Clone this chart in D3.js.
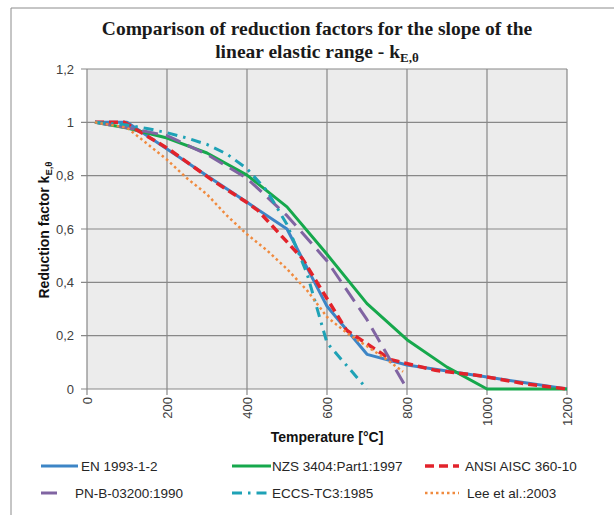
<!DOCTYPE html>
<html>
<head>
<meta charset="utf-8">
<script src="https://cdn.jsdelivr.net/npm/d3@7"></script>
<style>
  body { margin: 0; background: #fff; }
  svg { display: block; }
  .tick-label { font-family: "Liberation Sans", Arial, sans-serif; font-size: 13px; fill: #404040; }
  .legend-text { font-family: "Liberation Sans", Arial, sans-serif; font-size: 13.5px; fill: #262626; }
</style>
</head>
<body>
<div id="chart"></div>
<script>
// series data (temperature in °C, reduction factor)
const enTemps   = [20, 100, 200, 300, 400, 500, 600, 700, 800, 900, 1000, 1100, 1200];
const enValues  = [1, 1, 0.9, 0.8, 0.7, 0.6, 0.31, 0.13, 0.09, 0.0675, 0.045, 0.0225, 0];

const nzsTemps  = [20, 100, 200, 300, 400, 500, 600, 700, 800, 900, 1000, 1200];
const nzsValues = [1, 0.979, 0.941, 0.885, 0.802, 0.683, 0.505, 0.32, 0.185, 0.082, 0, 0];

const ansiTemps  = [20, 93, 204, 316, 399, 427, 538, 649, 760, 871, 982, 1093, 1200];
const ansiValues = [1, 1, 0.9, 0.78, 0.7, 0.67, 0.49, 0.22, 0.11, 0.07, 0.05, 0.02, 0];

const pnTemps  = [20, 100, 200, 300, 400, 500, 600, 700, 800];
const pnValues = [1, 0.98, 0.95, 0.88, 0.79, 0.65, 0.48, 0.26, 0];

const eccsTemps  = [20, 100, 150, 200, 250, 300, 350, 400, 450, 500, 550, 600, 700];
const eccsValues = [1, 0.99, 0.977, 0.961, 0.941, 0.917, 0.881, 0.826, 0.743, 0.617, 0.433, 0.173, 0];

const leeTemps  = [20, 100, 150, 200, 250, 300, 350, 400, 450, 500, 550, 600, 650, 700, 750, 790];
const leeValues = [1, 0.98, 0.92, 0.86, 0.79, 0.73, 0.65, 0.58, 0.52, 0.45, 0.37, 0.27, 0.21, 0.16, 0.11, 0.065];

const seriesNames = ["EN 1993-1-2", "NZS 3404:Part1:1997", "ANSI AISC 360-10",
                     "PN-B-03200:1990", "ECCS-TC3:1985", "Lee et al.:2003"];

const xTicks = [0, 200, 400, 600, 800, 1000, 1200];
const yTicks = [0, 0.2, 0.4, 0.6, 0.8, 1, 1.2];

const width = 614, height = 515;

const svg = d3.select('#chart').append('svg')
    .attr('width', width)
    .attr('height', height);

// chart frame (only left and top edges are visible)
svg.append('path')
    .attr('d', 'M11,520 V8 H620')
    .attr('fill', 'none')
    .attr('stroke', '#8c8c8c')
    .attr('stroke-width', 1);

const x = d3.scaleLinear().domain([0, 1200]).range([87, 567]);
const y = d3.scaleLinear().domain([0, 1.2]).range([389, 69]);

// plot area
svg.append('rect')
    .attr('x', x(0)).attr('y', y(1.2))
    .attr('width', x(1200) - x(0)).attr('height', y(0) - y(1.2))
    .attr('fill', '#ececec');

// grid
const grid = svg.append('g').attr('stroke', '#888').attr('stroke-width', 1.2);
grid.selectAll('.gx').data(xTicks).enter().append('line')
    .attr('x1', d => x(d)).attr('x2', d => x(d))
    .attr('y1', y(1.2)).attr('y2', y(0) + 6);
grid.selectAll('.gy').data(yTicks).enter().append('line')
    .attr('x1', x(0) - 6).attr('x2', x(1200))
    .attr('y1', d => y(d)).attr('y2', d => y(d));

// y tick labels with comma decimals
const fmt = d => String(+d.toFixed(1)).replace('.', ',');
svg.selectAll('.ylab').data(yTicks).enter().append('text')
    .attr('class', 'tick-label')
    .attr('x', 74)
    .attr('y', d => y(d) + 4.5)
    .attr('text-anchor', 'end')
    .text(fmt);

// x tick labels rotated
svg.selectAll('.xlab').data(xTicks).enter().append('text')
    .attr('class', 'tick-label')
    .attr('transform', d => `translate(${x(d) + 4.5},397) rotate(-90)`)
    .attr('text-anchor', 'end')
    .text(d => d);

// title
const title = svg.append('text')
    .attr('text-anchor', 'middle')
    .attr('font-family', '"Liberation Serif", "Times New Roman", serif')
    .attr('font-weight', 'bold')
    .attr('font-size', 19.5)
    .attr('fill', '#1a1a1a');
title.append('tspan').attr('x', 317).attr('y', 35)
    .text('Comparison of reduction factors for the slope of the');
const t2 = title.append('tspan').attr('x', 317).attr('y', 58);
t2.append('tspan').text('linear elastic range - k');
t2.append('tspan').attr('font-size', 13).attr('dy', 4).text('E,θ');

// axis titles
svg.append('text')
    .attr('x', 327).attr('y', 442)
    .attr('text-anchor', 'middle')
    .attr('font-family', '"Liberation Sans", Arial, sans-serif')
    .attr('font-weight', 'bold')
    .attr('font-size', 14)
    .attr('fill', '#111')
    .text('Temperature [°C]');

const yTitle = svg.append('text')
    .attr('transform', 'translate(49,230) rotate(-90)')
    .attr('text-anchor', 'middle')
    .attr('font-family', '"Liberation Sans", Arial, sans-serif')
    .attr('font-weight', 'bold')
    .attr('font-size', 14)
    .attr('fill', '#111');
yTitle.append('tspan').text('Reduction factor k');
yTitle.append('tspan').attr('font-size', 9.5).attr('dy', 3).text('E,θ');

// series
const styles = [
    { color: '#3d85c6', dash: null,        w: 3 },
    { color: '#16a84c', dash: null,        w: 3 },
    { color: '#e2232b', dash: '9,5',       w: 3.5 },
    { color: '#8064a2', dash: '16,8',      w: 3 },
    { color: '#1ea2b6', dash: '10,6,2.5,6', w: 3 },
    { color: '#f08a3e', dash: '2.5,3',     w: 2.5 }
];

const seriesData = [
    d3.zip(enTemps, enValues),
    d3.zip(nzsTemps, nzsValues),
    d3.zip(ansiTemps, ansiValues),
    d3.zip(pnTemps, pnValues),
    d3.zip(eccsTemps, eccsValues),
    d3.zip(leeTemps, leeValues)
];

const line = d3.line().x(d => x(d[0])).y(d => y(d[1]));

svg.append('g').selectAll('path')
    .data(seriesData)
    .enter().append('path')
    .attr('d', line)
    .attr('fill', 'none')
    .attr('stroke', (d, i) => styles[i].color)
    .attr('stroke-width', (d, i) => styles[i].w)
    .attr('stroke-dasharray', (d, i) => styles[i].dash)
    .attr('stroke-linejoin', 'round');

// legend
const legendPos = [
    { lx: 41, ly: 466, len: 37 },
    { lx: 232, ly: 466, len: 39 },
    { lx: 425, ly: 466, len: 34 },
    { lx: 41, ly: 493, len: 18 },
    { lx: 232, ly: 493, len: 39 },
    { lx: 425, ly: 493, len: 34 }
];
const textX = [81, 272, 465, 75, 272, 467];

const legend = svg.append('g');
seriesNames.forEach((name, i) => {
    const p = legendPos[i];
    legend.append('line')
        .attr('x1', p.lx).attr('x2', p.lx + p.len)
        .attr('y1', p.ly).attr('y2', p.ly)
        .attr('stroke', styles[i].color)
        .attr('stroke-width', styles[i].w)
        .attr('stroke-dasharray', styles[i].dash);
    legend.append('text')
        .attr('class', 'legend-text')
        .attr('x', textX[i]).attr('y', p.ly + 5)
        .text(name);
});
</script>
</body>
</html>
